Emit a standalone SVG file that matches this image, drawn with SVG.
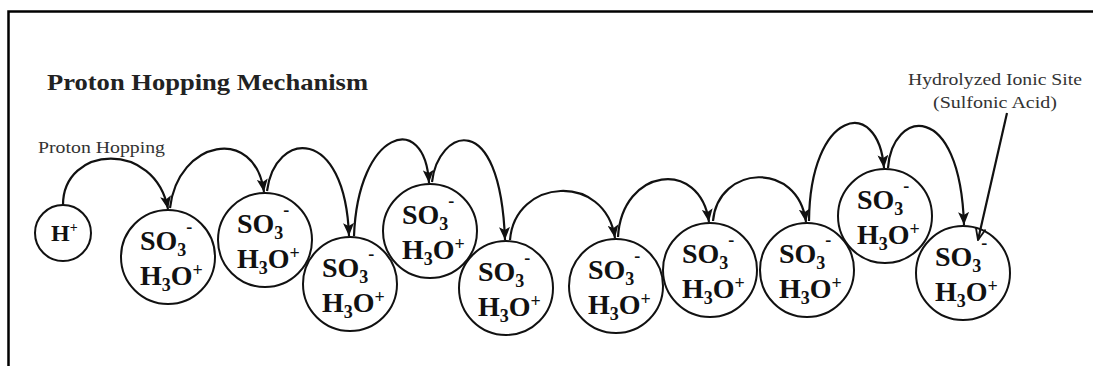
<svg xmlns="http://www.w3.org/2000/svg" width="1093" height="366" viewBox="0 0 1093 366">
<style>
.bg{fill:#fff}
.frame{stroke:#000;stroke-width:2.5;fill:none}
.node circle{fill:#fff;stroke:#111;stroke-width:2}
.lbl{font-family:"Liberation Serif",serif;font-weight:bold;font-size:28px;fill:#111}
.s{font-size:18px}
.title{font-family:"Liberation Serif",serif;font-weight:bold;font-size:23px;fill:#222}
.note{font-family:"Liberation Serif",serif;font-size:17px;fill:#333}
.conn path{fill:none;stroke:#111;stroke-width:2.2}
.ptr{fill:none;stroke:#111;stroke-width:2}
</style>
<defs>
<marker id="ah" markerUnits="userSpaceOnUse" markerWidth="14" markerHeight="11" refX="13" refY="5.5" orient="auto">
<path d="M0,0 L13,5.5 L0,11 L3,5.5 z" fill="#111"/>
</marker>
<marker id="oh" markerUnits="userSpaceOnUse" markerWidth="14" markerHeight="12" refX="13" refY="6" orient="auto">
<path d="M1,1 L13,6 L1,11" fill="none" stroke="#111" stroke-width="1.8"/>
</marker>
</defs>
<rect class="bg" x="0" y="0" width="1093" height="366"/>
<path class="frame" d="M8.5,366 L8.5,11.5 L1093,11.5"/>

<text class="title" x="47" y="90" textLength="321" lengthAdjust="spacingAndGlyphs">Proton Hopping Mechanism</text>
<text class="note" x="38" y="153" textLength="127" lengthAdjust="spacingAndGlyphs">Proton Hopping</text>
<text class="note" x="908" y="85" textLength="174" lengthAdjust="spacingAndGlyphs">Hydrolyzed Ionic Site</text>
<text class="note" x="933" y="108" textLength="124" lengthAdjust="spacingAndGlyphs">(Sulfonic Acid)</text>

<g id="n0" class="node"><circle cx="63" cy="233" r="28"/><text class="lbl" x="51" y="241" style="font-size:24px">H<tspan class="s" style="font-size:14px" dy="-9">+</tspan></text></g>
<g id="n1" class="node"><circle cx="168" cy="257" r="47"/><text class="lbl" x="140" y="250">SO<tspan class="s" dy="6">3</tspan><tspan class="s" dy="-23">-</tspan></text><text class="lbl" x="140" y="285">H<tspan class="s" dy="6">3</tspan><tspan dy="-6">O</tspan><tspan class="s" dy="-9">+</tspan></text></g>
<g id="n2" class="node"><circle cx="265" cy="240" r="47"/><text class="lbl" x="237" y="233">SO<tspan class="s" dy="6">3</tspan><tspan class="s" dy="-23">-</tspan></text><text class="lbl" x="237" y="268">H<tspan class="s" dy="6">3</tspan><tspan dy="-6">O</tspan><tspan class="s" dy="-9">+</tspan></text></g>
<g id="n3" class="node"><circle cx="350" cy="284" r="47"/><text class="lbl" x="322" y="277">SO<tspan class="s" dy="6">3</tspan><tspan class="s" dy="-23">-</tspan></text><text class="lbl" x="322" y="312">H<tspan class="s" dy="6">3</tspan><tspan dy="-6">O</tspan><tspan class="s" dy="-9">+</tspan></text></g>
<g id="n4" class="node"><circle cx="430" cy="231" r="47"/><text class="lbl" x="402" y="224">SO<tspan class="s" dy="6">3</tspan><tspan class="s" dy="-23">-</tspan></text><text class="lbl" x="402" y="259">H<tspan class="s" dy="6">3</tspan><tspan dy="-6">O</tspan><tspan class="s" dy="-9">+</tspan></text></g>
<g id="n5" class="node"><circle cx="506" cy="288" r="47"/><text class="lbl" x="478" y="281">SO<tspan class="s" dy="6">3</tspan><tspan class="s" dy="-23">-</tspan></text><text class="lbl" x="478" y="316">H<tspan class="s" dy="6">3</tspan><tspan dy="-6">O</tspan><tspan class="s" dy="-9">+</tspan></text></g>
<g id="n6" class="node"><circle cx="616" cy="286" r="47"/><text class="lbl" x="588" y="279">SO<tspan class="s" dy="6">3</tspan><tspan class="s" dy="-23">-</tspan></text><text class="lbl" x="588" y="314">H<tspan class="s" dy="6">3</tspan><tspan dy="-6">O</tspan><tspan class="s" dy="-9">+</tspan></text></g>
<g id="n7" class="node"><circle cx="710" cy="270" r="47"/><text class="lbl" x="682" y="263">SO<tspan class="s" dy="6">3</tspan><tspan class="s" dy="-23">-</tspan></text><text class="lbl" x="682" y="298">H<tspan class="s" dy="6">3</tspan><tspan dy="-6">O</tspan><tspan class="s" dy="-9">+</tspan></text></g>
<g id="n8" class="node"><circle cx="807" cy="270" r="47"/><text class="lbl" x="779" y="263">SO<tspan class="s" dy="6">3</tspan><tspan class="s" dy="-23">-</tspan></text><text class="lbl" x="779" y="298">H<tspan class="s" dy="6">3</tspan><tspan dy="-6">O</tspan><tspan class="s" dy="-9">+</tspan></text></g>
<g id="n9" class="node"><circle cx="885" cy="216" r="47"/><text class="lbl" x="857" y="209">SO<tspan class="s" dy="6">3</tspan><tspan class="s" dy="-23">-</tspan></text><text class="lbl" x="857" y="244">H<tspan class="s" dy="6">3</tspan><tspan dy="-6">O</tspan><tspan class="s" dy="-9">+</tspan></text></g>
<g id="n10" class="node"><circle cx="963" cy="273" r="47"/><text class="lbl" x="935" y="266">SO<tspan class="s" dy="6">3</tspan><tspan class="s" dy="-23">-</tspan></text><text class="lbl" x="935" y="301">H<tspan class="s" dy="6">3</tspan><tspan dy="-6">O</tspan><tspan class="s" dy="-9">+</tspan></text></g>

<g id="connectors" class="conn">
<path d="M63,205 C63,145 155,140 168,209" marker-end="url(#ah)"/>
<path d="M170,208 C178,140 255,125 264,192" marker-end="url(#ah)"/>
<path d="M267,191 C275,130 345,125 349,236" marker-end="url(#ah)"/>
<path d="M354,236 C358,130 425,110 429,183" marker-end="url(#ah)"/>
<path d="M432,182 C438,130 500,105 505,240" marker-end="url(#ah)"/>
<path d="M510,240 C515,178 605,172 615,238" marker-end="url(#ah)"/>
<path d="M618,237 C622,168 700,158 709,222" marker-end="url(#ah)"/>
<path d="M713,221 C718,165 798,160 806,222" marker-end="url(#ah)"/>
<path d="M809,221 C810,110 878,95 884,168" marker-end="url(#ah)"/>
<path d="M888,168 C892,110 960,98 964,225" marker-end="url(#ah)"/>
<path class="ptr" d="M1007,113 L978,240" marker-end="url(#oh)"/>
</g>
</svg>
